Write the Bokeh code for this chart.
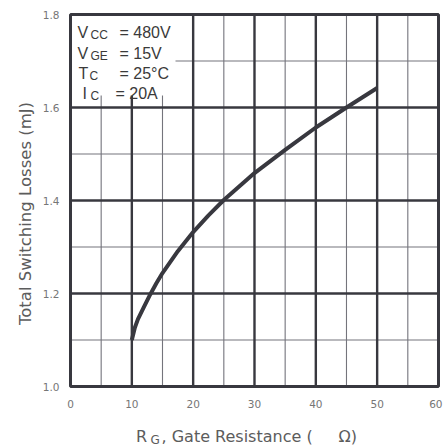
from math import pi
from bokeh.plotting import figure
from bokeh.models import Range1d
from bokeh.core.properties import value
from bokeh.embed import file_html
from bokeh.resources import INLINE

# ---- data ----
rg = [10, 10.5, 11, 12, 13, 14, 15, 17.5, 20, 22.5, 25, 30, 35, 40, 45, 50]
loss = [1.100, 1.127, 1.145, 1.172, 1.198, 1.222, 1.244, 1.291, 1.332, 1.368,
        1.401, 1.459, 1.509, 1.557, 1.600, 1.642]

x_ticks = [0, 10, 20, 30, 40, 50, 60]
y_ticks = [1.0, 1.2, 1.4, 1.6, 1.8]
x_minor = [5, 15, 25, 35, 45, 55]
y_minor = [1.1, 1.3, 1.5, 1.7]
x_tick_labels = [str(t) for t in x_ticks]
y_tick_labels = ["%.1f" % t for t in y_ticks]

cond_sym = ["V", "V", "T", "I"]
cond_sub = ["CC", "GE", "C", "C"]
cond_val = ["= 480V", "= 15V", "= 25°C", "= 20A"]

y_title = "Total Switching Losses (mJ)"
x_title_main = "R"
x_title_sub = "G"
x_title_rest = ", Gate Resistance ("
x_title_unit = "Ω)"

# ---- layout: frame covers the whole canvas; pixel -> data helpers ----
W, H = 443, 447
PX0, PXU = 70.0, 6.133      # pixel x of x=0, px per unit
PY18, PYU = 14.0, 465.0     # pixel y of y=1.8, px per unit
def px(pix_x):
    return (pix_x - PX0) / PXU
def py(pix_y):
    return 1.8 - (pix_y - PY18) / PYU

p = figure(width=W, height=H, output_backend="svg", toolbar_location=None,
           x_range=Range1d(px(0), px(W)), y_range=Range1d(py(H), py(0)),
           x_axis_location=None, y_axis_location=None, min_border=0)
p.outline_line_color = None
p.background_fill_color = "white"
p.border_fill_color = "white"
p.xgrid.visible = False
p.ygrid.visible = False

FONT = "DejaVu Sans"
FONT2 = "Liberation Sans"
FRAME = "#38383f"
MINOR = "#74747c"
TXT = "#3a3a3a"
LBL = "#5c5c5c"
TICK = "#767676"

x0, x1 = x_ticks[0], x_ticks[-1]
y0, y1 = y_ticks[0], y_ticks[-1]

# minor grid
p.segment(x0=x_minor, x1=x_minor, y0=[y0] * len(x_minor), y1=[y1] * len(x_minor),
          line_color=MINOR, line_width=1.1)
p.segment(x0=[x0] * len(y_minor), x1=[x1] * len(y_minor), y0=y_minor, y1=y_minor,
          line_color=MINOR, line_width=1.1)
# major grid
xm = x_ticks[1:-1]
ym = y_ticks[1:-1]
p.segment(x0=xm, x1=xm, y0=[y0] * len(xm), y1=[y1] * len(xm), line_color=FRAME, line_width=2.4)
p.segment(x0=[x0] * len(ym), x1=[x1] * len(ym), y0=ym, y1=ym, line_color=FRAME, line_width=2.4)

# white box behind the test conditions
p.quad(left=[x0], right=[px(175)], bottom=[py(95)], top=[y1],
       fill_color="white", line_color=None)

# curve
p.line(rg, loss, line_width=4, line_color=FRAME, line_join="round")

# frame
p.quad(left=[x0], right=[x1], bottom=[y0], top=[y1], fill_color=None,
       line_color=FRAME, line_width=3)

# tick labels
p.text(x=x_ticks[:-1], y=[py(403)] * (len(x_ticks) - 1), text=x_tick_labels[:-1],
       text_font=value(FONT), text_font_size=value("10.5px"), text_color=TICK,
       text_align="center", text_baseline="middle")
p.text(x=[px(442)], y=[py(403)], text=x_tick_labels[-1:],
       text_font=value(FONT), text_font_size=value("10.5px"), text_color=TICK,
       text_align="right", text_baseline="middle")
p.text(x=[px(59)] * len(y_ticks), y=y_ticks, text=y_tick_labels,
       text_font=value(FONT), text_font_size=value("10.5px"), text_color=TICK,
       text_align="right", text_baseline="middle")

# axis titles
p.text(x=[px(25)], y=[py(213)], text=[y_title], angle=pi / 2,
       text_font=value(FONT), text_font_size=value("16.5px"), text_color=LBL,
       text_align="center", text_baseline="alphabetic")
p.text(x=[px(135.5)], y=[py(436)], text=[x_title_main],
       text_font=value(FONT), text_font_size=value("16px"), text_color=LBL,
       text_align="left", text_baseline="alphabetic")
p.text(x=[px(150)], y=[py(439.5)], text=[x_title_sub],
       text_font=value(FONT), text_font_size=value("12px"), text_color=LBL,
       text_align="left", text_baseline="alphabetic")
p.text(x=[px(161)], y=[py(436)], text=[x_title_rest],
       text_font=value(FONT), text_font_size=value("16px"), text_color=LBL,
       text_align="left", text_baseline="alphabetic")
p.text(x=[px(338)], y=[py(436)], text=[x_title_unit],
       text_font=value(FONT), text_font_size=value("16px"), text_color=LBL,
       text_align="left", text_baseline="alphabetic")

# test conditions
sym_px = [77, 77, 78, 82]
sub_px = [90, 90, 89, 90]
val_px = [119, 119, 119, 115]
base_px = [32, 53, 73, 93]
p.text(x=[px(v) for v in sym_px], y=[py(v) for v in base_px], text=cond_sym,
       text_font=value(FONT2), text_font_size=value("16px"), text_color=TXT,
       text_align="left", text_baseline="alphabetic")
p.text(x=[px(v) for v in sub_px], y=[py(v + 2.5) for v in base_px], text=cond_sub,
       text_font=value(FONT2), text_font_size=value("12px"), text_color=TXT,
       text_align="left", text_baseline="alphabetic")
p.text(x=[px(v) for v in val_px], y=[py(v) for v in base_px], text=cond_val,
       text_font=value(FONT2), text_font_size=value("16px"), text_color=TXT,
       text_align="left", text_baseline="alphabetic")

open("out.html", "w").write(file_html(p, INLINE))
